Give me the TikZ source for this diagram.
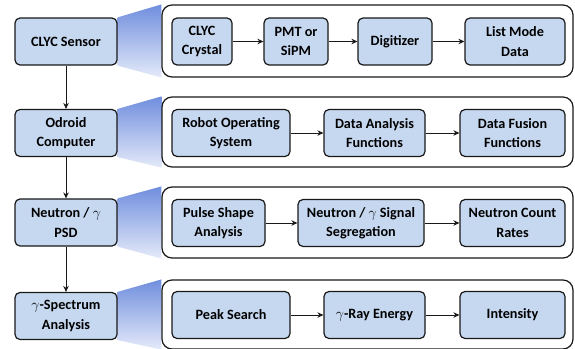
\documentclass[tikz,border=0pt]{standalone}
\usepackage{fontspec}
\setmainfont{Carlito}
\usetikzlibrary{positioning,calc,arrows.meta,backgrounds}
\definecolor{boxblue}{RGB}{198,216,240}
\definecolor{wedgetop}{RGB}{112,142,222}
\definecolor{wedgebot}{RGB}{228,234,249}

\begin{document}
\begin{tikzpicture}[x=1pt,y=-1pt,
	stage/.style={draw=black!90, fill=boxblue, rounded corners=5pt, line width=1.2pt,
		align=center, inner sep=0pt, minimum height=47pt,
		font=\fontsize{14.2}{19.5}\selectfont\bfseries},
	group/.style={draw=black!90, fill=white, rounded corners=10pt, line width=1.2pt,
		inner sep=0pt, minimum width=411pt},
	flow/.style={-{Stealth[length=6pt,width=5.5pt]}, line width=1pt, black!90}]
	
	\useasboundingbox (0,0) rectangle (575,348);
	
	% left column
	\node[stage, minimum width=102pt] (sensor) at (66,41.5) {CLYC Sensor};
	\node[stage, minimum width=102pt] (odroid) at (66,133) {Odroid\\Computer};
	\node[stage, minimum width=102pt] (psd) at (66,222.5) {Neutron / $\gamma$\\PSD};
	\node[stage, minimum width=102pt] (spectrum) at (66,316) {$\gamma$-Spectrum\\Analysis};
	
	\draw[flow] (sensor) -- (odroid);
	\draw[flow] (odroid) -- (psd);
	\draw[flow] (psd) -- (spectrum);
	
	% groups
	\node[group, minimum height=72pt] (grpA) at (367.5,41) {};
	\node[group, minimum height=70pt] (grpB) at (367.5,132) {};
	\node[group, minimum height=71pt] (grpC) at (367.5,222.5) {};
	\node[group, minimum height=69pt] (grpD) at (367.5,314.5) {};
	
	% row 1
	\node[stage, minimum width=60pt] (crystal) at (202,41.5) {CLYC\\Crystal};
	\node[stage, minimum width=64pt] (pmt) at (296,41.5) {PMT or\\SiPM};
	\node[stage, minimum width=74pt] (digi) at (395,41.5) {Digitizer};
	\node[stage, minimum width=100pt] (listmode) at (515,41.5) {List Mode\\Data};
	\draw[flow] (crystal) -- (pmt);
	\draw[flow] (pmt) -- (digi);
	\draw[flow] (digi) -- (listmode);
	
	% row 2
	\node[stage, minimum width=118pt] (ros) at (231,133) {Robot Operating\\System};
	\node[stage, minimum width=101pt] (analysis) at (374.5,133) {Data Analysis\\Functions};
	\node[stage, minimum width=105pt] (fusion) at (512.5,133) {Data Fusion\\Functions};
	\draw[flow] (ros) -- (analysis);
	\draw[flow] (analysis) -- (fusion);
	
	% row 3
	\node[stage, minimum width=93pt] (pulse) at (218.5,223) {Pulse Shape\\Analysis};
	\node[stage, minimum width=126pt] (segr) at (361,223) {Neutron / $\gamma$ Signal\\Segregation};
	\node[stage, minimum width=105pt] (rates) at (512.5,223) {Neutron Count\\Rates};
	\draw[flow] (pulse) -- (segr);
	\draw[flow] (segr) -- (rates);
	
	% row 4
	\node[stage, minimum width=118pt] (peak) at (231,315) {Peak Search};
	\node[stage, minimum width=101pt] (energy) at (374.5,315) {$\gamma$-Ray Energy};
	\node[stage, minimum width=105pt] (intens) at (512.5,315) {Intensity};
	\draw[flow] (peak) -- (energy);
	\draw[flow] (energy) -- (intens);
	
	% wedges
	\begin{scope}[on background layer]
		\foreach \s/\g in {sensor/grpA, odroid/grpB, psd/grpC, spectrum/grpD}
		\shade[top color=wedgetop, bottom color=wedgebot]
		(\s.north east) -- (\g.north west) -- (\g.south west) -- (\s.south east) -- cycle;
	\end{scope}
	
\end{tikzpicture}
\end{document}
